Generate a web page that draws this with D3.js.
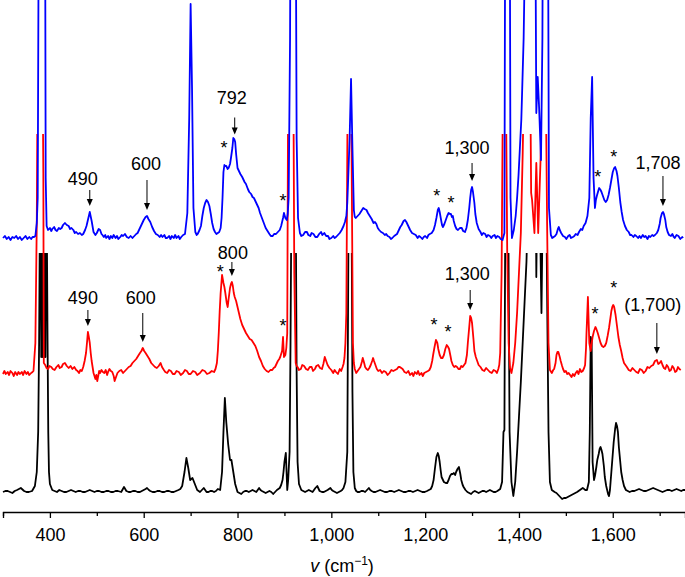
<!DOCTYPE html>
<html>
<head>
<meta charset="utf-8">
<script src="https://cdn.jsdelivr.net/npm/d3@7"></script>
<style>
  html, body { margin: 0; padding: 0; background: #fff; }
  svg { display: block; }
</style>
</head>
<body>
<svg id="chart"></svg>
<script>
const WIDTH = 685;
const HEIGHT = 577;

// [wavenumber cm-1, intensity above the trace's own baseline (a.u.)]
const blueSpectrum = [
  [300,0],[304,2],[308,-1],[312,1],[316,-2],[320,1],[324,0],[328,2],[332,-1],[336,1],[340,-2],
  [344,0],[348,2],[352,-1],[356,1],[360,-1],[363,1],[366,1],[369,2],[372,15],[374,40],
  [376,300],[380,900],[385,700],[389,500],[391,60],[393,12],[396,8],[400,10],[403,7],[405,9],
  [409,11],[412,8],[415,7],[419,10],[422,9],[425,10],[428,13],[432,15],[436,13],[440,12],
  [443,9],[446,10],[450,8],[453,5],[456,6],[460,4],[464,5],[468,3],[471,4],[475,8],[478,12],
  [481,18],[485,26],[489,17],[493,6],[497,3],[500,5],[504,9],[507,8],[510,4],[512,3],[515,1],
  [518,3],[520,0],[524,2],[527,-1],[530,2],[533,0],[536,3],[540,0],[543,2],[546,-1],[550,1],
  [553,3],[556,2],[560,4],[564,1],[568,0],[572,2],[576,0],[580,2],[584,4],[587,5],[590,8],
  [595,13],[600,18],[604,21],[607,22],[610,19],[614,16],[618,11],[622,7],[626,4],[630,3],
  [634,1],[637,3],[640,1],[644,3],[647,0],[650,0],[654,2],[657,-1],[660,2],[664,0],[667,3],
  [670,0],[674,2],[677,-1],[680,1],[684,3],[688,4],[693,25],[697,120],[700,234],[703,150],
  [706,30],[710,6],[713,3],[715,4],[719,8],[722,12],[725,22],[728,30],[731,35],[734,38],
  [737,36],[740,32],[743,24],[746,15],[749,9],[752,6],[755,4],[758,5],[761,6],[764,10],
  [766,20],[768,40],[770,66],[772,73],[774,72],[776,72],[779,69],[781,70],[784,74],[786,80],
  [789,90],[791,100],[793,99],[795,96],[797,84],[800,70],[803,67],[806,64],[810,61],[815,56],
  [818,54],[822,49],[825,46],[829,44],[832,41],[835,40],[839,36],[842,33],[845,30],[848,25],
  [852,20],[856,15],[860,10],[864,7],[868,4],[871,2],[875,2],[878,4],[882,4],[886,6],[890,8],
  [893,12],[895,16],[897,20],[899,25],[902,20],[905,18],[907,24],[909,40],[912,200],[915,600],
  [922,600],[926,100],[929,20],[933,5],[936,2],[940,3],[944,6],[948,6],[951,3],[955,2],[958,5],
  [962,4],[966,1],[970,1],[974,4],[978,6],[981,3],[985,5],[989,2],[993,2],[996,-1],[1000,0],
  [1004,2],[1007,0],[1010,1],[1014,3],[1018,5],[1022,8],[1026,12],[1029,16],[1032,22],
  [1034,35],[1036,60],[1039,100],[1042,159],[1045,90],[1048,28],[1050,21],[1052,20],[1056,22],
  [1060,24],[1064,27],[1068,30],[1071,29],[1075,28],[1078,25],[1082,22],[1086,19],[1090,15],
  [1093,16],[1096,14],[1099,10],[1102,8],[1106,6],[1110,5],[1114,3],[1117,4],[1120,2],[1124,1],
  [1127,-1],[1130,0],[1134,2],[1137,3],[1140,4],[1144,8],[1147,11],[1150,13],[1154,17],
  [1157,18],[1160,16],[1164,12],[1168,8],[1172,5],[1176,4],[1180,3],[1184,0],[1187,2],[1190,1],
  [1194,-1],[1197,1],[1200,2],[1204,0],[1207,3],[1210,4],[1214,5],[1218,8],[1221,13],[1224,20],
  [1227,28],[1229,30],[1231,26],[1234,18],[1236,13],[1238,11],[1241,14],[1244,18],[1247,22],
  [1250,25],[1253,24],[1255,24],[1257,21],[1259,22],[1261,17],[1264,12],[1267,9],[1270,8],
  [1274,10],[1278,10],[1281,7],[1285,6],[1288,10],[1291,18],[1294,30],[1296,40],[1298,48],
  [1300,51],[1302,46],[1305,35],[1307,24],[1310,15],[1314,9],[1318,6],[1321,3],[1324,5],
  [1328,4],[1331,1],[1334,3],[1338,2],[1341,0],[1344,2],[1348,3],[1351,0],[1354,2],[1358,1],
  [1361,-1],[1365,-2],[1369,5],[1372,600],[1379,600],[1382,40],[1385,0],[1389,8],[1393,22],
  [1396,40],[1399,62],[1402,90],[1405,118],[1407,150],[1410,200],[1412,260],[1418,600],
  [1432,600],[1437,125],[1440,161],[1443,130],[1447,78],[1450,200],[1453,600],[1460,600],
  [1464,30],[1468,3],[1471,0],[1474,1],[1477,2],[1480,4],[1483,9],[1485,11],[1487,8],[1490,5],
  [1494,2],[1498,1],[1501,-1],[1505,2],[1508,3],[1511,0],[1515,1],[1518,2],[1521,4],[1525,3],
  [1528,6],[1532,9],[1535,8],[1538,12],[1542,15],[1546,22],[1550,40],[1553,120],[1556,161],
  [1559,60],[1562,30],[1564,38],[1566,42],[1569,47],[1571,50],[1574,48],[1576,46],[1579,42],
  [1582,38],[1585,36],[1588,38],[1591,43],[1594,50],[1597,58],[1600,66],[1603,70],[1605,71],
  [1608,67],[1610,62],[1613,50],[1616,36],[1619,26],[1622,18],[1626,12],[1630,8],[1634,6],
  [1637,3],[1640,3],[1644,1],[1647,3],[1650,2],[1654,0],[1657,2],[1660,0],[1664,3],[1667,1],
  [1670,2],[1674,-1],[1677,2],[1680,1],[1684,3],[1687,2],[1690,3],[1694,5],[1697,8],[1700,14],
  [1702,20],[1705,25],[1707,26],[1709,24],[1712,18],[1714,11],[1717,6],[1720,3],[1724,2],
  [1727,4],[1730,1],[1732,0],[1736,3],[1740,2],[1744,-1],[1748,1],[1750,0]
];

const redSpectrum = [
  [300,-1],[303,2],[306,-1],[310,1],[313,-2],[316,2],[320,0],[323,-3],[326,1],[330,-2],[333,1],
  [336,-1],[340,1],[343,-2],[346,2],[350,-1],[353,1],[356,-2],[360,0],[363,1],[365,2],[369,30],
  [372,150],[375,400],[383,400],[386,200],[387,10],[390,8],[393,5],[396,4],[399,7],[403,6],
  [406,4],[410,3],[414,6],[418,8],[421,5],[425,6],[428,9],[432,10],[436,7],[440,5],[444,7],
  [448,4],[452,6],[456,3],[459,2],[462,0],[465,3],[468,2],[471,6],[474,12],[477,20],[479,30],
  [481,41],[483,36],[485,30],[487,20],[489,12],[491,6],[493,0],[495,-3],[497,-6],[499,-2],
  [501,-8],[503,-3],[505,2],[507,0],[510,3],[513,1],[516,0],[519,3],[522,-2],[524,1],[527,4],
  [530,2],[533,1],[536,-3],[538,-8],[541,-4],[544,0],[548,2],[552,3],[556,0],[560,2],[564,4],
  [568,6],[572,7],[576,10],[580,12],[584,14],[588,17],[592,20],[595,22],[598,25],[601,22],
  [604,20],[608,17],[612,14],[616,10],[620,8],[624,6],[628,5],[632,7],[636,10],[639,6],[643,3],
  [646,1],[650,0],[654,3],[658,2],[662,-1],[666,-1],[670,2],[675,1],[679,-2],[684,0],[688,3],
  [692,2],[696,-1],[700,-1],[705,2],[710,1],[714,-2],[720,0],[725,3],[730,2],[735,-1],[740,0],
  [745,2],[750,1],[753,4],[756,10],[758,22],[760,40],[762,62],[764,80],[767,98],[770,90],
  [772,86],[774,80],[777,70],[779,66],[781,74],[784,85],[786,89],[788,91],[790,87],[792,80],
  [794,76],[797,72],[800,66],[803,60],[806,54],[810,48],[814,44],[818,40],[822,37],[826,34],
  [830,33],[834,30],[838,27],[842,22],[846,16],[850,12],[854,7],[858,4],[862,2],[866,1],[870,3],
  [874,3],[877,5],[880,6],[883,9],[886,12],[889,14],[891,16],[893,19],[895,22],[897,36],
  [899,16],[902,18],[904,25],[906,40],[908,300],[919,300],[921,100],[924,10],[926,7],[928,6],
  [931,3],[935,4],[938,8],[942,7],[946,4],[950,3],[954,6],[958,6],[961,2],[965,4],[968,7],
  [972,8],[976,5],[980,4],[983,9],[986,16],[989,12],[992,8],[996,5],[1000,3],[1004,0],[1007,3],
  [1010,1],[1014,-1],[1018,4],[1021,2],[1024,6],[1026,9],[1028,15],[1030,30],[1032,60],
  [1035,300],[1042,300],[1046,30],[1048,10],[1050,4],[1053,0],[1056,2],[1059,4],[1062,6],
  [1065,11],[1067,15],[1070,10],[1072,6],[1075,4],[1078,3],[1081,5],[1084,8],[1087,12],
  [1089,15],[1091,12],[1094,8],[1097,4],[1100,2],[1104,3],[1108,0],[1112,2],[1116,1],[1120,-2],
  [1124,0],[1128,3],[1132,2],[1136,3],[1140,4],[1143,6],[1146,6],[1149,5],[1152,4],[1156,1],
  [1160,0],[1164,2],[1168,-2],[1172,0],[1175,-3],[1178,1],[1182,-1],[1185,2],[1188,-2],
  [1192,0],[1195,-3],[1198,0],[1202,1],[1206,2],[1209,3],[1212,6],[1215,12],[1217,18],
  [1220,26],[1223,33],[1226,30],[1228,24],[1231,18],[1234,15],[1237,15],[1240,18],[1243,24],
  [1246,28],[1249,26],[1251,24],[1254,17],[1256,12],[1259,8],[1262,6],[1265,7],[1268,6],
  [1271,4],[1274,4],[1277,7],[1280,6],[1283,8],[1286,10],[1289,18],[1291,30],[1294,46],
  [1296,57],[1298,55],[1300,50],[1303,34],[1305,22],[1308,16],[1311,12],[1314,8],[1318,6],
  [1322,3],[1326,2],[1330,5],[1334,3],[1338,1],[1342,0],[1346,3],[1350,2],[1353,0],[1356,4],
  [1358,8],[1360,20],[1363,100],[1366,300],[1372,300],[1375,120],[1378,30],[1381,5],[1384,0],
  [1388,10],[1392,30],[1396,60],[1400,100],[1404,140],[1408,220],[1411,300],[1424,300],
  [1426,180],[1428,173],[1433,140],[1437,210],[1441,140],[1446,213],[1450,300],[1457,300],
  [1460,150],[1463,30],[1466,3],[1470,0],[1473,3],[1475,4],[1478,10],[1480,18],[1482,21],
  [1484,21],[1487,16],[1489,12],[1492,7],[1494,4],[1497,1],[1500,2],[1503,-1],[1506,0],
  [1509,-2],[1512,-4],[1515,-1],[1518,-3],[1521,0],[1524,2],[1527,-1],[1530,4],[1533,1],
  [1536,2],[1539,5],[1541,8],[1543,25],[1544,40],[1547,76],[1549,45],[1550,30],[1553,22],
  [1555,30],[1557,36],[1560,42],[1563,46],[1565,44],[1568,40],[1571,35],[1574,30],[1577,27],
  [1580,26],[1583,27],[1586,30],[1589,37],[1592,45],[1595,55],[1597,62],[1599,66],[1601,68],
  [1603,66],[1606,58],[1609,47],[1612,36],[1615,28],[1618,22],[1621,15],[1624,10],[1627,8],
  [1630,6],[1634,3],[1638,2],[1642,5],[1646,3],[1650,1],[1654,0],[1658,4],[1662,3],[1666,0],
  [1670,2],[1674,6],[1678,5],[1682,7],[1686,8],[1690,12],[1694,13],[1697,9],[1700,10],
  [1703,12],[1706,8],[1709,5],[1712,4],[1715,8],[1718,6],[1721,2],[1724,3],[1727,7],[1730,5],
  [1733,1],[1736,2],[1739,6],[1742,4],[1745,3]
];

const blackSpectrum = [
  [300,0],[305,1],[310,1],[315,0],[320,-1],[325,1],[330,2],[338,4],[345,1],[350,0],[355,0],
  [362,1],[368,6],[372,20],[375,60],[377,150],[379,300],[380,300],[381.5,135],[383,300],
  [384.5,135],[386,300],[387.5,135],[389,300],[390.5,135],[392,300],[393,300],[395,150],
  [396.5,60],[398,20],[400,8],[405,2],[410,1],[415,0],[420,2],[425,1],[430,0],[435,0],[440,1],
  [445,2],[450,1],[455,0],[460,1],[465,1],[470,0],[475,0],[480,1],[485,2],[490,1],[495,0],
  [500,1],[505,1],[510,0],[515,0],[520,1],[525,1],[530,0],[535,0],[540,1],[545,1],[552,0],
  [558,5],[563,1],[568,0],[572,0],[577,1],[582,1],[587,0],[592,0],[596,1],[600,2],[604,3],
  [607,4],[611,2],[614,1],[619,0],[624,0],[629,1],[634,1],[639,0],[644,0],[649,1],[654,1],
  [659,0],[664,0],[669,1],[674,2],[678,3],[682,6],[687,20],[691,34],[695,24],[699,12],[704,14],
  [709,8],[714,2],[720,0],[724,2],[728,4],[731,2],[734,0],[738,0],[742,1],[746,1],[750,0],
  [754,1],[758,3],[763,2],[767,20],[770,60],[773,94],[776,70],[780,48],[784,32],[787,32],
  [791,20],[795,8],[800,0],[804,-1],[808,-2],[812,0],[816,1],[820,1],[824,0],[828,1],[832,2],
  [836,1],[840,0],[843,2],[846,4],[849,2],[852,1],[856,0],[860,-1],[864,0],[868,1],[872,0],
  [876,-2],[880,0],[884,2],[887,3],[890,4],[893,7],[896,12],[898,20],[900,30],[903,39],[906,2],
  [908,12],[911,40],[913,150],[915,300],[924,300],[926,120],[928,30],[931,8],[936,2],[940,1],
  [944,0],[948,1],[952,2],[956,1],[960,0],[963,2],[966,4],[970,6],[973,3],[975,1],[980,0],
  [984,0],[988,1],[992,2],[995,3],[998,4],[1001,2],[1004,1],[1008,0],[1012,-1],[1016,0],
  [1020,1],[1023,2],[1026,4],[1030,10],[1034,40],[1037,300],[1043,300],[1045,100],[1047,20],
  [1050,4],[1053,1],[1056,0],[1060,0],[1064,1],[1068,1],[1072,0],[1076,2],[1080,4],[1083,2],
  [1086,1],[1090,0],[1094,0],[1099,1],[1104,2],[1109,1],[1114,0],[1119,0],[1124,1],[1129,1],
  [1134,0],[1139,1],[1144,2],[1149,1],[1154,0],[1159,0],[1164,1],[1169,1],[1174,0],[1179,1],
  [1184,2],[1189,1],[1194,0],[1199,0],[1204,1],[1208,2],[1212,3],[1215,6],[1218,12],[1221,24],
  [1224,35],[1227,39],[1229,36],[1231,30],[1233,22],[1235,15],[1238,12],[1240,10],[1244,9],
  [1247,9],[1250,12],[1253,16],[1256,18],[1259,18],[1261,19],[1264,17],[1266,20],[1269,23],
  [1272,25],[1275,18],[1277,12],[1280,7],[1282,5],[1286,2],[1290,0],[1294,-1],[1298,-2],
  [1302,0],[1306,1],[1310,0],[1314,-1],[1318,0],[1322,1],[1326,1],[1330,0],[1334,1],[1338,2],
  [1342,1],[1346,0],[1350,0],[1354,1],[1357,2],[1360,3],[1364,10],[1367,60],[1369,62],
  [1371,300],[1377,300],[1380,60],[1384,10],[1388,-4],[1392,10],[1396,40],[1400,75],[1404,110],
  [1408,150],[1412,190],[1416,230],[1420,300],[1436,300],[1437,215],[1439,300],[1444,300],
  [1448,179],[1451,300],[1458,300],[1461,150],[1463,60],[1466,10],[1470,2],[1473,1],[1476,0],
  [1480,-1],[1484,-3],[1488,-5],[1492,-7],[1496,-6],[1500,-6],[1504,-5],[1508,-4],[1512,-3],
  [1516,-2],[1520,-1],[1524,0],[1527,1],[1530,2],[1533,3],[1536,4],[1539,3],[1541,2],[1545,2],
  [1549,10],[1551,60],[1553,155],[1555,150],[1557,30],[1560,12],[1562,16],[1565,25],[1567,32],
  [1570,38],[1572,43],[1574,45],[1576,42],[1578,38],[1581,26],[1583,15],[1586,6],[1588,2],
  [1590,-2],[1592,-4],[1594,2],[1597,20],[1600,38],[1602,50],[1605,63],[1607,69],[1609,66],
  [1611,60],[1613,45],[1616,30],[1618,20],[1621,12],[1624,6],[1628,2],[1632,1],[1636,0],
  [1641,1],[1646,1],[1651,2],[1656,3],[1661,2],[1666,1],[1671,1],[1676,2],[1681,3],[1686,4],
  [1691,3],[1696,2],[1701,1],[1706,0],[1711,1],[1716,2],[1721,2],[1726,1],[1731,2],[1736,3],
  [1741,2],[1746,1],[1750,2],[1754,2]
];

// stacking offsets and display cut-off of each trace (a.u.)
const traceOffsets = { black: 20, red: 139, blue: 274 };
const traceCaps = { black: 259, red: 378, blue: 512 };

const xTickValues = d3.range(300, 1701, 100);
const xTickLabels = [400, 600, 800, 1000, 1200, 1400, 1600];

const blueArrowLabels = ["490", "600", "792", "1,300", "1,708"];
const blueArrowAt = [485, 607, 794, 1300, 1707];
const redArrowLabels = ["490", "600", "800", "1,300", "(1,700)"];
const redArrowAt = [481, 598, 788, 1296, 1694];
const blueStars = [771, 897, 1225, 1255, 1568, 1602];
const redStars = [763, 897, 1219, 1249, 1562, 1602];

// layout of the annotations: [arrow length, gap to label, label dx] (px), star gaps (px)
const blueArrowLayout = [[16, 5, -7], [30, 10, -1], [17, 14, -3], [18, 9, -5], [30, 7, -5]];
const redArrowLayout = [[16, 6, -5], [29, 9, -2], [14, 3, 1], [20, 10, -3], [31, 12, -4]];
const blueStarGaps = [21, 16, 16, 14, 15, 14];
const redStarGaps = [7, 15, 19, 17, 17, 21];

const FONT = "'Liberation Sans', Arial, Helvetica, sans-serif";

const svg = d3.select("#chart")
  .attr("width", WIDTH)
  .attr("height", HEIGHT)
  .attr("viewBox", `0 0 ${WIDTH} ${HEIGHT}`)
  .style("background", "#fff");

const x = d3.scaleLinear().domain([300, 1754]).range([3, 685]);
const y = d3.scaleLinear().domain([0, 512]).range([512, 0]);

const traces = [
  { key: "black", data: blackSpectrum, color: "#000000" },
  { key: "red", data: redSpectrum, color: "#ff0000" },
  { key: "blue", data: blueSpectrum, color: "#0000ff" }
];

const defs = svg.append("defs");
traces.forEach((t) => {
  defs.append("clipPath")
    .attr("id", `clip-${t.key}`)
    .append("rect")
    .attr("x", 0)
    .attr("y", y(traceCaps[t.key]))
    .attr("width", WIDTH)
    .attr("height", HEIGHT);
});

traces.forEach((t) => {
  const off = traceOffsets[t.key];
  const line = d3.line()
    .x((d) => x(d[0]))
    .y((d) => y(d[1] + off));
  svg.append("path")
    .datum(t.data)
    .attr("clip-path", `url(#clip-${t.key})`)
    .attr("fill", "none")
    .attr("stroke", t.color)
    .attr("stroke-width", 1.8)
    .attr("stroke-linejoin", "round")
    .attr("d", line);
});

// axis
const axis = d3.axisBottom(x)
  .tickValues(xTickValues)
  .tickSizeOuter(0)
  .tickSize(6)
  .tickPadding(6)
  .tickFormat((v) => xTickLabels.includes(v) ? d3.format(",")(v) : "");

const gAxis = svg.append("g")
  .attr("transform", `translate(0, ${y(0)})`)
  .call(axis);

gAxis.select(".domain").attr("stroke", "#000").attr("stroke-width", 1.3);
gAxis.selectAll(".tick line")
  .attr("stroke", "#000")
  .attr("stroke-width", 1.3)
  .attr("y2", (v) => xTickLabels.includes(v) ? 6 : 4);
gAxis.selectAll(".tick text")
  .attr("font-family", FONT)
  .attr("font-size", 18)
  .attr("fill", "#000")
  .attr("dy", "0.95em");

const title = svg.append("text")
  .attr("x", 342)
  .attr("y", 572)
  .attr("text-anchor", "middle")
  .attr("font-family", FONT)
  .attr("font-size", 18)
  .attr("fill", "#000");
title.append("tspan").attr("font-style", "italic").text("v");
title.append("tspan").text(" (cm");
title.append("tspan").attr("font-size", 12).attr("dy", -7).text("\u22121");
title.append("tspan").attr("dy", 7).text(")");

// annotations
function valueAt(data, v) {
  const i = d3.bisector((d) => d[0]).left(data, v);
  if (i <= 0) return data[0][1];
  if (i >= data.length) return data[data.length - 1][1];
  const a = data[i - 1], b = data[i];
  return a[1] + (b[1] - a[1]) * (v - a[0]) / (b[0] - a[0]);
}

const ann = svg.append("g").attr("class", "annotations");

function drawArrows(data, key, labels, at, layout) {
  const off = traceOffsets[key];
  at.forEach((v, i) => {
    const px = x(v);
    const tip = y(valueAt(data, v) + off) - 6;
    const [len, gap, dx] = layout[i];
    const top = tip - len;
    ann.append("line")
      .attr("x1", px).attr("x2", px)
      .attr("y1", top).attr("y2", tip - 5)
      .attr("stroke", "#000")
      .attr("stroke-width", 1);
    ann.append("path")
      .attr("d", `M${px - 3},${tip - 7} L${px + 3},${tip - 7} L${px},${tip} Z`)
      .attr("fill", "#000");
    ann.append("text")
      .attr("x", px + dx)
      .attr("y", top - gap)
      .attr("text-anchor", "middle")
      .attr("font-family", FONT)
      .attr("font-size", 18)
      .attr("fill", "#000")
      .text(labels[i]);
  });
}

function drawStars(data, key, stars, gaps) {
  const off = traceOffsets[key];
  stars.forEach((v, i) => {
    const local = d3.max(data.filter((d) => Math.abs(d[0] - v) <= 5), (d) => d[1]);
    ann.append("text")
      .attr("x", x(v))
      .attr("y", y(local + off) - gaps[i] + 10)
      .attr("text-anchor", "middle")
      .attr("font-family", FONT)
      .attr("font-size", 18)
      .attr("fill", "#000")
      .text("*");
  });
}

drawArrows(blueSpectrum, "blue", blueArrowLabels, blueArrowAt, blueArrowLayout);
drawArrows(redSpectrum, "red", redArrowLabels, redArrowAt, redArrowLayout);
drawStars(blueSpectrum, "blue", blueStars, blueStarGaps);
drawStars(redSpectrum, "red", redStars, redStarGaps);
</script>
</body>
</html>
